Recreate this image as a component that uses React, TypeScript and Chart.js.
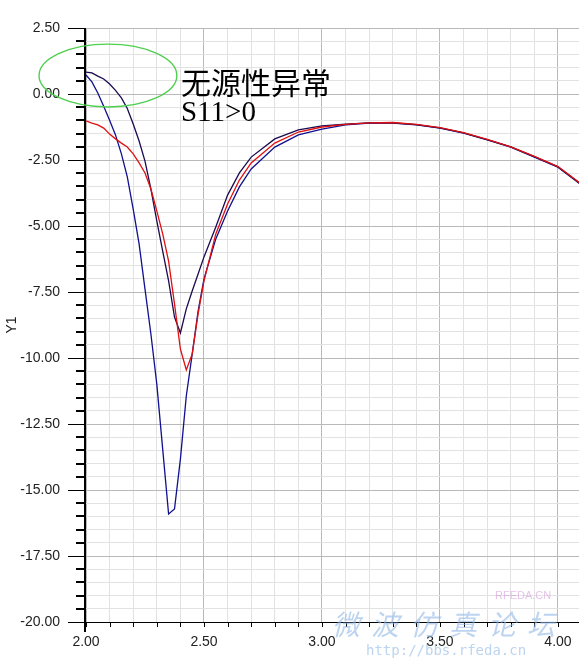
import { useEffect, useRef } from "react";
import { Chart, registerables } from "chart.js";

Chart.register(...registerables);

// Frequency sweep (GHz) shared by all three S11 traces
const freqGHz = [
  2.0, 2.025, 2.05, 2.075, 2.1, 2.125, 2.15, 2.175, 2.2, 2.225, 2.25, 2.275, 2.3,
  2.325, 2.35, 2.375, 2.4, 2.425, 2.45, 2.475, 2.5, 2.55, 2.6, 2.65, 2.7, 2.8,
  2.9, 3.0, 3.1, 3.2, 3.3, 3.4, 3.5, 3.6, 3.7, 3.8, 3.9, 4.0, 4.1,
];

// S11 (dB) of the deep-resonance trace
const s11Blue = [
  0.72, 0.46, 0.04, -0.46, -0.99, -1.55, -2.27, -3.14, -4.36, -5.68, -7.39, -9.09,
  -10.99, -13.45, -15.91, -15.72, -13.83, -11.44, -9.85, -8.22, -7.0, -5.49, -4.43,
  -3.52, -2.84, -2.01, -1.55, -1.33, -1.17, -1.1, -1.1, -1.17, -1.29, -1.48, -1.74,
  -2.01, -2.39, -2.77, -3.45,
];

// S11 (dB) of the dark trace that starts above 0 dB
const s11Navy = [
  0.83, 0.8, 0.68, 0.57, 0.38, 0.14, -0.15, -0.55, -1.14, -1.78, -2.54, -3.6, -4.81,
  -5.95, -7.08, -8.45, -9.05, -8.14, -7.46, -6.82, -6.17, -5.04, -3.83, -2.99,
  -2.39, -1.7, -1.36, -1.21, -1.14, -1.09, -1.09, -1.16, -1.28, -1.47, -1.73, -2.0,
  -2.37, -2.76, -3.43,
];

// S11 (dB) of the red reference trace
const s11Red = [
  -1.02, -1.1, -1.17, -1.29, -1.52, -1.7, -1.86, -2.01, -2.27, -2.61, -2.99, -3.6,
  -4.43, -5.3, -6.33, -7.95, -9.66, -10.45, -9.85, -8.33, -7.08, -5.3, -4.17, -3.26,
  -2.61, -1.86, -1.44, -1.25, -1.15, -1.09, -1.08, -1.15, -1.27, -1.46, -1.72, -2.0,
  -2.36, -2.75, -3.42,
];

// Axis ranges and tick spacing
const X_MIN = 2.0;
const X_MAX = 4.089;
const Y_MIN = -20;
const Y_MAX = 2.5;
const X_STEP = 0.1;
const X_MAJOR = 0.5;
const Y_STEP = 0.5;
const Y_MAJOR = 2.5;

const xTickValues: number[] = [];
for (let i = 0; i <= 20; i++) xTickValues.push(Math.round((X_MIN + i * X_STEP) * 10) / 10);
const yTickValues: number[] = [];
for (let i = 0; i <= 45; i++) yTickValues.push(Y_MIN + i * Y_STEP);

// Note text and highlight ring around the start of the sweep
const noteLines = ["无源性异常", "S11>0"];
const ringCenter = { x: 2.093, y: 0.7 };
const ringRadius = { x: 0.292, y: 1.19 };

const isMultiple = (v: number, step: number) => {
  const r = v / step;
  return Math.abs(r - Math.round(r)) < 1e-6;
};

const toPoints = (ys: number[]) => freqGHz.map((f, i) => ({ x: f, y: ys[i] }));

const axisPlugin = {
  id: "axisFrame",
  afterDatasetsDraw(chart: any) {
    const { ctx, chartArea: a, scales } = chart;
    const x = scales.x;
    const y = scales.y;
    ctx.save();
    ctx.strokeStyle = "#000";
    // x tick marks below the axis
    ctx.lineWidth = 1;
    for (const v of xTickValues) {
      const px = Math.round(x.getPixelForValue(v)) + 0.5;
      ctx.beginPath();
      ctx.moveTo(px, a.bottom);
      ctx.lineTo(px, a.bottom + 5);
      ctx.stroke();
    }
    // y tick marks to the left of the axis
    for (const v of yTickValues) {
      const major = isMultiple(v, Y_MAJOR);
      const py = Math.round(y.getPixelForValue(v));
      ctx.lineWidth = major ? 1 : 2;
      ctx.beginPath();
      const yy = major ? py + 0.5 : py;
      ctx.moveTo(a.left - (major ? 18 : 10), yy);
      ctx.lineTo(a.left, yy);
      ctx.stroke();
    }
    // axis lines
    ctx.lineWidth = 1;
    ctx.beginPath();
    ctx.moveTo(a.left, Math.round(a.bottom) + 0.5);
    ctx.lineTo(a.right, Math.round(a.bottom) + 0.5);
    ctx.stroke();
    ctx.lineWidth = 2;
    ctx.beginPath();
    ctx.moveTo(a.left - 1, a.top);
    ctx.lineTo(a.left - 1, a.bottom + 10);
    ctx.stroke();
    ctx.restore();
  },
};

const notePlugin = {
  id: "note",
  afterDraw(chart: any) {
    const { ctx, scales } = chart;
    const x = scales.x;
    const y = scales.y;
    ctx.save();
    // highlight ring
    const cx = x.getPixelForValue(ringCenter.x);
    const cy = y.getPixelForValue(ringCenter.y);
    const rx = x.getPixelForValue(ringCenter.x + ringRadius.x) - cx;
    const ry = cy - y.getPixelForValue(ringCenter.y + ringRadius.y);
    ctx.strokeStyle = "#4fcf4f";
    ctx.lineWidth = 1.4;
    ctx.beginPath();
    ctx.ellipse(cx, cy, rx, ry, 0, 0, Math.PI * 2);
    ctx.stroke();

    // note text
    const tx = x.getPixelForValue(2.4025);
    ctx.fillStyle = "#000";
    ctx.textAlign = "left";
    ctx.textBaseline = "middle";
    ctx.font = '30px "Noto Sans CJK SC"';
    ctx.fillText(noteLines[0], tx, y.getPixelForValue(0.42));
    ctx.font = '29px "Liberation Serif"';
    ctx.fillText(noteLines[1], tx, y.getPixelForValue(-0.72));

    // faint forum watermark in the lower right
    ctx.globalAlpha = 0.6;
    ctx.fillStyle = "#8fb8e6";
    ctx.font = 'italic 28px "Noto Sans CJK SC"';
    const chars = "微波仿真论坛";
    for (let i = 0; i < chars.length; i++) {
      ctx.fillText(chars[i], 332 + i * 39, 624);
    }
    ctx.font = '14px "DejaVu Sans Mono"';
    ctx.fillText("http://bbs.rfeda.cn", 366, 651);
    ctx.fillStyle = "#d49ad8";
    ctx.font = '11px "Liberation Sans"';
    ctx.fillText("RFEDA.CN", 495, 596);
    ctx.restore();
  },
};

export default function App() {
  const canvasRef = useRef<HTMLCanvasElement | null>(null);

  useEffect(() => {
    if (!canvasRef.current) return;
    const chart = new Chart(canvasRef.current, {
      type: "line",
      data: {
        datasets: [
          {
            label: "S11 trace 1",
            data: toPoints(s11Red),
            borderColor: "#e01010",
            borderWidth: 1.3,
            pointRadius: 0,
            tension: 0,
          },
          {
            label: "S11 trace 2",
            data: toPoints(s11Navy),
            borderColor: "#1c0a50",
            borderWidth: 1.3,
            pointRadius: 0,
            tension: 0,
          },
          {
            label: "S11 trace 3",
            data: toPoints(s11Blue),
            borderColor: "#101090",
            borderWidth: 1.3,
            pointRadius: 0,
            tension: 0,
          },
        ],
      },
      options: {
        animation: false,
        responsive: true,
        maintainAspectRatio: false,
        layout: { padding: { top: 28, left: 0, right: 0, bottom: 0 } },
        plugins: {
          legend: { display: false },
          tooltip: { enabled: false },
        },
        scales: {
          x: {
            type: "linear",
            min: X_MIN,
            max: X_MAX,
            afterBuildTicks: (scale: any) => {
              scale.ticks = xTickValues.map((v) => ({ value: v }));
            },
            afterFit: (scale: any) => {
              scale.height = 43;
              scale.paddingLeft = 0;
              scale.paddingRight = 0;
            },
            border: { display: false },
            grid: {
              drawTicks: false,
              color: (c: any) =>
                isMultiple(c.tick.value, X_MAJOR) ? "#b9b9b9" : "#e2e2e2",
              lineWidth: 1,
            },
            ticks: {
              autoSkip: false,
              maxRotation: 0,
              padding: 12,
              color: "#222",
              font: { family: "Liberation Sans", size: 14 },
              callback: (v: any) => (isMultiple(Number(v), X_MAJOR) ? Number(v).toFixed(2) : ""),
            },
          },
          y: {
            type: "linear",
            min: Y_MIN,
            max: Y_MAX,
            afterBuildTicks: (scale: any) => {
              scale.ticks = yTickValues.map((v) => ({ value: v }));
            },
            afterFit: (scale: any) => {
              scale.width = 86;
              scale.paddingTop = 0;
              scale.paddingBottom = 0;
            },
            border: { display: false },
            grid: {
              drawTicks: false,
              color: (c: any) =>
                isMultiple(c.tick.value, Y_MAJOR) ? "#b9b9b9" : "#e2e2e2",
              lineWidth: 1,
            },
            title: {
              display: true,
              text: "Y1",
              color: "#222",
              font: { family: "Liberation Sans", size: 14 },
              padding: { top: 4, bottom: 0 },
            },
            ticks: {
              autoSkip: false,
              padding: 26,
              color: "#222",
              font: { family: "Liberation Sans", size: 14 },
              callback: (v: any) => {
                const n = Number(v);
                if (!isMultiple(n, Y_MAJOR)) return "";
                return (Math.abs(n) < 1e-9 ? 0 : n).toFixed(2);
              },
            },
          },
        },
      },
      plugins: [axisPlugin, notePlugin],
    });
    return () => chart.destroy();
  }, []);

  return (
    <div style={{ position: "absolute", left: 0, top: 0, width: 579, height: 665, background: "#fff" }}>
      <canvas ref={canvasRef} />
    </div>
  );
}
